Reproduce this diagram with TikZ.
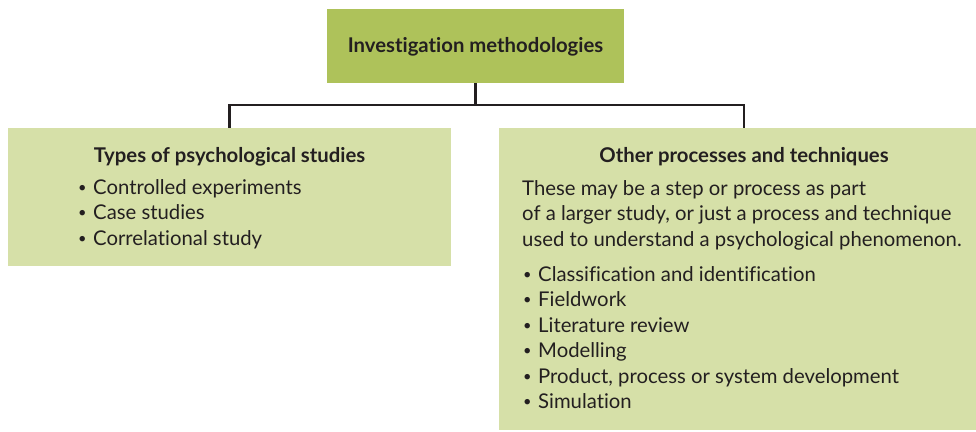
\documentclass[tikz,border=0pt]{standalone}
\usepackage{fontspec}
\setmainfont{Lato}[Ligatures=NoCommon]
\definecolor{headgreen}{HTML}{AEC25A}
\definecolor{panelgreen}{HTML}{D6E0A8}
\definecolor{ink}{HTML}{231F20}
\tikzset{
  headbox/.style={fill=headgreen, draw=none, minimum width=297pt, minimum height=74pt, inner sep=0pt},
  panel/.style={fill=panelgreen, draw=none, inner sep=0pt},
  heading/.style={font=\fontsize{20.3}{24}\selectfont\bfseries, text=ink, anchor=base, inner sep=0pt},
  bodytext/.style={font=\fontsize{20.3}{24}\selectfont, text=ink, anchor=base west, inner sep=0pt},
  link/.style={draw=ink, line width=2.4pt}
}
% small round bullet followed by the item text
\newcommand{\itembullet}{\makebox[16pt][l]{\hspace{1pt}\raisebox{0.09em}{\scalebox{0.72}{\textbullet}}}}
\begin{document}
\begin{tikzpicture}[x=1pt,y=-1pt]
\useasboundingbox (0,0) rectangle (976,431);
% boxes
\node[headbox] (top) at (475.5,46) {};
\node[panel, minimum width=443pt, minimum height=138pt] (left) at (229.5,197) {};
\node[panel, minimum width=477pt, minimum height=302pt] (right) at (737.5,279) {};
\coordinate (rightjoin) at ([xshift=6.5pt]right.north);
% connectors
\draw[link] (top.south) -- (top.south |- 0,105) -| (left.north);
\draw[link] (top.south |- 0,105) -| (rightjoin);
% headings
\node[heading] (toptitle) at (475.5,52) {Investigation methodologies};
\node[heading] (lefttitle) at (229.5,162) {Types of psychological studies};
\node[heading] (righttitle) at (744,162) {Other processes and techniques};
% left list
\foreach \t [count=\i] in {Controlled experiments, Case studies, Correlational study}
  \node[bodytext] (leftitem\i) at (77,{194+25.5*(\i-1)}) {\itembullet\t};
% right paragraph
\foreach \t [count=\i] in {These may be a step or process as part,
    {of a larger study, or just a process and technique},
    used to understand a psychological phenomenon.}
  \node[bodytext] (rightpara\i) at (522,{195+25.5*(\i-1)}) {\t};
% right list
\foreach \t [count=\i] in {Classification and identification, Fieldwork,
    Literature review, Modelling, {Product, process or system development}, Simulation}
  \node[bodytext] (rightitem\i) at (522,{281+25.5*(\i-1)}) {\itembullet\t};
\end{tikzpicture}
\end{document}
